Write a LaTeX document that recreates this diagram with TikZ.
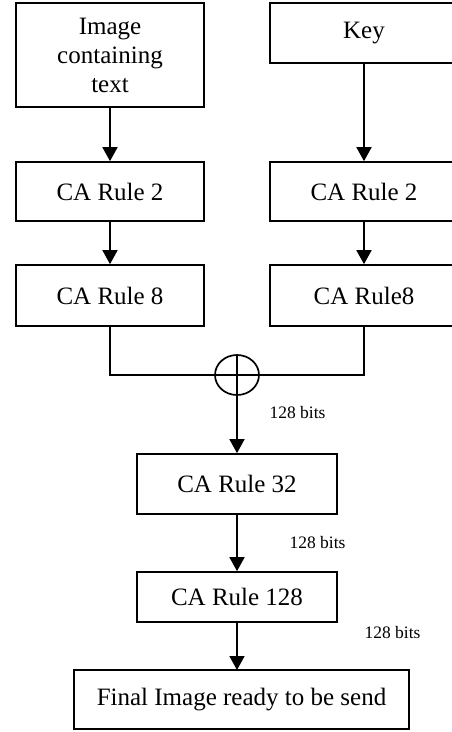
\documentclass[tikz,border=0pt]{standalone}
\usepackage{fontspec}
\setmainfont{Liberation Serif}
\usetikzlibrary{arrows.meta,shapes.geometric}
\begin{document}
\begin{tikzpicture}[x=1pt,y=-1pt,
  box/.style={draw,line width=1.7pt,inner sep=0pt,align=center,font=\fontsize{25}{29}\selectfont},
  arr/.style={line width=1.7pt,-{Triangle[width=15pt,length=14pt]}},
  conn/.style={line width=1.7pt},
  lbl/.style={font=\fontsize{17.5}{20}\selectfont,inner sep=0pt}]
\useasboundingbox (0,0) rectangle (452,732);
\node[box,minimum width=188pt,minimum height=104pt] (img) at (110,55) {Image\\containing\\text};
\node[box,minimum width=188pt,minimum height=60pt] (key) at (364,33) {Key};
\node[box,minimum width=188pt,minimum height=59pt] (l2) at (110,191.5) {CA Rule 2};
\node[box,minimum width=188pt,minimum height=59pt] (r2) at (364,191.5) {CA Rule 2};
\node[box,minimum width=188pt,minimum height=61pt] (l8) at (110,295.5) {CA Rule 8};
\node[box,minimum width=188pt,minimum height=61pt] (r8) at (364,295.5) {CA Rule8};
\node[draw,ellipse,line width=1.7pt,minimum width=44pt,minimum height=40pt,inner sep=0pt] (xor) at (237,375) {};
\draw[conn] (xor.west) -- (xor.east);
\draw[conn] (xor.north) -- (xor.south);
\node[box,minimum width=200pt,minimum height=60pt] (c32) at (237,484) {CA Rule 32};
\node[box,minimum width=200pt,minimum height=50pt] (c128) at (237,597) {CA Rule 128};
\node[box,minimum width=335pt,minimum height=59pt] (fin) at (241.5,699.5) {Final Image ready to be send};
\coordinate (fintop) at (237,670);
\draw[arr] (img) -- (l2);
\draw[arr] (key) -- (r2);
\draw[arr] (l2) -- (l8);
\draw[arr] (r2) -- (r8);
\draw[conn] (l8.south) |- (xor.west);
\draw[conn] (r8.south) |- (xor.east);
\draw[arr] (xor.south) -- (c32.north);
\draw[arr] (c32.south) -- (c128.north);
\draw[arr] (c128.south) -- (fintop);
\node[lbl] (b1) at (297.5,413) {128 bits};
\node[lbl] (b2) at (317.5,543) {128 bits};
\node[lbl] (b3) at (392.5,633) {128 bits};
\end{tikzpicture}
\end{document}
